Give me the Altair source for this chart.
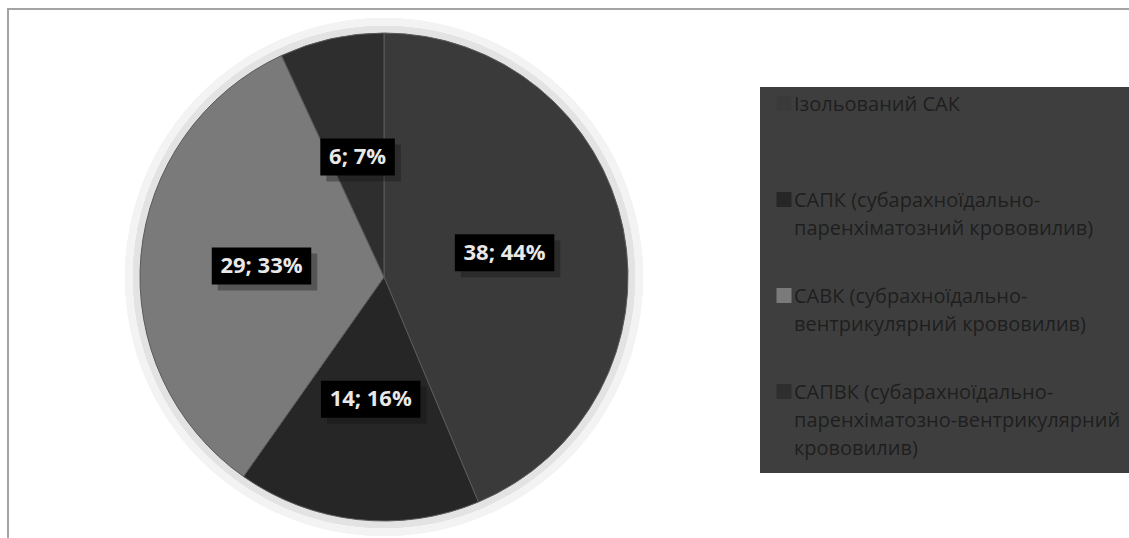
import altair as alt
import pandas as pd

# ---- data ----
categories = [
    "Ізольований САК",
    "САПК (субарахноїдально-\nпаренхіматозний крововилив)",
    "САВК (субрахноїдально-\nвентрикулярний крововилив)",
    "САПВК (субарахноїдально-\nпаренхіматозно-вентрикулярний\nкрововилив)",
]
counts = [38, 14, 29, 6]
slice_colors = ["#3a3a3a", "#262626", "#7a7a7a", "#2e2e2e"]

df = pd.DataFrame({"category": categories, "count": counts, "order": list(range(len(categories)))})

# ---- layout ----
W, H = 1122, 530
CX, CY = 377, 269
R = 244
LR = 123

base = alt.Chart(df)

frame_top = base.mark_rule(color="#a3a3a3", strokeWidth=2).encode(
    x=alt.value(0), x2=alt.value(W), y=alt.value(1)
)
frame_left = base.mark_rule(color="#a3a3a3", strokeWidth=2).encode(
    x=alt.value(1), y=alt.value(0), y2=alt.value(H)
)

glow1 = base.mark_arc(theta=0, theta2=6.2832, radius=R + 15, fill="#f3f3f3").encode(
    x=alt.value(CX), y=alt.value(CY)
)
glow2 = base.mark_arc(theta=0, theta2=6.2832, radius=R + 7, fill="#e3e3e3").encode(
    x=alt.value(CX), y=alt.value(CY)
)

pie = base.mark_arc(radius=R, stroke="#5a5a5a", strokeWidth=1).encode(
    theta=alt.Theta("count:Q", stack=True),
    order=alt.Order("order:Q"),
    color=alt.Color(
        "category:N",
        sort=categories,
        scale=alt.Scale(domain=categories, range=slice_colors),
        legend=alt.Legend(
            title=None,
            orient="none",
            legendX=753,
            legendY=79,
            fillColor="#3e3e3e",
            padding=14,
            symbolType="M-1,-2H1V0H-1Z",
            symbolSize=225,
            symbolStrokeWidth=0,
            symbolOpacity=1,
            labelFont="Open Sans",
            labelFontSize=20,
            labelColor="#1e1e1e",
            labelLimit=600,
            labelOffset=0,
            labelBaseline="alphabetic",
            rowPadding=20,
            labelExpr="slice(split(datum.label + '\\n\\n', '\\n'), 0, 3)",
        ),
    ),
    x=alt.value(CX),
    y=alt.value(CY),
)

lab = (
    base.transform_window(cum="sum(count)", sort=[alt.SortField("order")])
    .transform_joinaggregate(total="sum(count)")
    .transform_calculate(
        ang="(datum.cum - datum.count / 2) / datum.total * 2 * PI",
        pct="round(datum.count / datum.total * 100)",
    )
    .transform_calculate(
        label="datum.count + '; ' + datum.pct + '%'",
        lx=f"{CX} + {LR} * sin(datum.ang)",
        ly=f"{CY} - {LR} * cos(datum.ang)",
    )
    .transform_calculate(
        bw="length(datum.label) * 12.5 + 12",
    )
    .transform_calculate(
        bx1="datum.lx - datum.bw / 2",
        bx2="datum.lx + datum.bw / 2",
        by1="datum.ly - 18.5",
        by2="datum.ly + 18.5",
        sx1="datum.lx - datum.bw / 2 + 6",
        sx2="datum.lx + datum.bw / 2 + 6",
        sy1="datum.ly - 18.5 + 6",
        sy2="datum.ly + 18.5 + 6",
    )
)

box_shadow = lab.mark_rect(color="#111111", opacity=0.35).encode(
    x=alt.X("sx1:Q", scale=None, axis=None),
    x2="sx2:Q",
    y=alt.Y("sy1:Q", scale=None, axis=None),
    y2="sy2:Q",
)
boxes = lab.mark_rect(color="#000000").encode(
    x=alt.X("bx1:Q", scale=None, axis=None),
    x2="bx2:Q",
    y=alt.Y("by1:Q", scale=None, axis=None),
    y2="by2:Q",
)
texts = lab.mark_text(
    font="Open Sans", fontWeight="bold", fontSize=22, color="#e8e8e8", baseline="middle"
).encode(
    x=alt.X("lx:Q", scale=None, axis=None),
    y=alt.Y("ly:Q", scale=None, axis=None),
    text="label:N",
)

chart = (
    alt.layer(frame_top, frame_left, glow1, glow2, pie, box_shadow, boxes, texts)
    .properties(
        width=W,
        height=H,
        autosize=alt.AutoSizeParams(type="none"),
        padding={"left": 7, "top": 8, "right": 0, "bottom": 0},
        background="#ffffff",
    )
    .configure_view(stroke=None)
    .configure(style={"guide-label": {"lineHeight": 28}})
)

chart.save("out.html", embed_options={"renderer": "svg", "actions": False})
